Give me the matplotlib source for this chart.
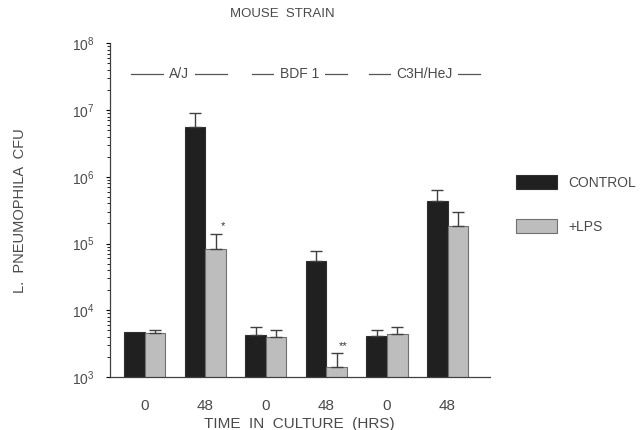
import numpy as np
import matplotlib
matplotlib.use('Agg')
from matplotlib import pyplot as plt
from matplotlib.ticker import LogLocator, NullFormatter

plt.rcParams['font.family'] = ['Liberation Sans', 'DejaVu Sans']

# Данные
strains = ['A/J', 'BDF 1', 'C3H/HeJ']
hours = ['0', '48', '0', '48', '0', '48']
control = [4.7e3, 5.6e6, 4.3e3, 5.4e4, 4.1e3, 4.3e5]
control_top = [4.7e3, 9.0e6, 5.6e3, 7.8e4, 5.0e3, 6.3e5]
lps = [4.5e3, 8.3e4, 4.0e3, 1.43e3, 4.45e3, 1.8e5]
lps_top = [5.0e3, 1.4e5, 5.0e3, 2.26e3, 5.6e3, 2.95e5]
marks = ['', '*', '', '**', '', '']

txt = '#4a4a4a'
fig = plt.figure(figsize=(6.44, 4.30), dpi=100)
ax = fig.add_axes([109.5 / 644, 1 - 377 / 430, (490 - 109.5) / 644, (377 - 43.3) / 430])
ax.set_yscale('log')

x = np.arange(len(hours))
w = 0.34
control_err = np.array(control_top) - np.array(control)
lps_err = np.array(lps_top) - np.array(lps)

ax.bar(x - w / 2, control, w, color='#202020', edgecolor='#303030',
       linewidth=0.8, label='CONTROL')
ax.bar(x + w / 2, lps, w, color='#bdbdbd', edgecolor='#707070',
       linewidth=0.8, label='+LPS')

# Только верхние усы, и только там, где они есть
for xs, vals, errs in [(x - w / 2, control, control_err), (x + w / 2, lps, lps_err)]:
    keep = errs > 0
    ax.errorbar(xs[keep], np.array(vals)[keep],
                yerr=[np.zeros(keep.sum()), errs[keep]], fmt='none',
                ecolor='#404040', elinewidth=1, capsize=4, capthick=1)

for i, m in enumerate(marks):
    if m:
        ax.annotate(m, (x[i] + w / 2, lps_top[i]), xytext=(5, 2),
                    textcoords='offset points', ha='center', va='bottom',
                    fontsize=8, color='#333333')

ax.set_ylim(1e3, 1e8)
ax.set_xlim(-0.58, 5.70)
ax.yaxis.set_major_locator(LogLocator(base=10, numticks=10))
ax.yaxis.set_minor_locator(LogLocator(base=10, subs=np.arange(2, 10), numticks=20))
ax.yaxis.set_minor_formatter(NullFormatter())
ax.tick_params(axis='y', which='major', direction='out', length=3, width=0.8,
               labelsize=10, labelcolor=txt, pad=8)
ax.tick_params(axis='y', which='minor', direction='out', length=2, width=0.6)
ax.set_xticks(x)
ax.set_xticklabels(hours)
ax.tick_params(axis='x', length=0, labelsize=11, labelcolor=txt, pad=16)

for s in ['top', 'right']:
    ax.spines[s].set_visible(False)
for s in ['left', 'bottom']:
    ax.spines[s].set_color('#404040')
    ax.spines[s].set_linewidth(0.9)

ax.set_xlabel('TIME  IN  CULTURE  (HRS)', fontsize=11, color=txt, labelpad=3)
ax.set_ylabel('L.  PNEUMOPHILA  CFU', fontsize=10.5, color=txt, labelpad=32)

# Подписи линий мышей
spans = [(-0.22, 1.36), (1.77, 3.34), (3.70, 5.54)]
ly = 10 ** 7.535
for (a, b), name in zip(spans, strains):
    ax.plot([a, b], [ly, ly], color='#555555', linewidth=0.9, clip_on=False)
    ax.text((a + b) / 2, ly, name, ha='center', va='center', fontsize=10,
            color=txt, bbox=dict(facecolor='white', edgecolor='none', pad=4))

fig.text(282 / 644, 1 - 14 / 430, 'MOUSE  STRAIN', ha='center', va='center',
         fontsize=9.5, color=txt)

leg = fig.legend(loc='upper left', bbox_to_anchor=(503 / 644, 1 - 163 / 430),
                 frameon=False, fontsize=10, handlelength=3.0, handleheight=1.15,
                 handletextpad=0.8, labelspacing=2.1)
for t in leg.get_texts():
    t.set_color(txt)

fig.savefig('out.png', dpi=100)
